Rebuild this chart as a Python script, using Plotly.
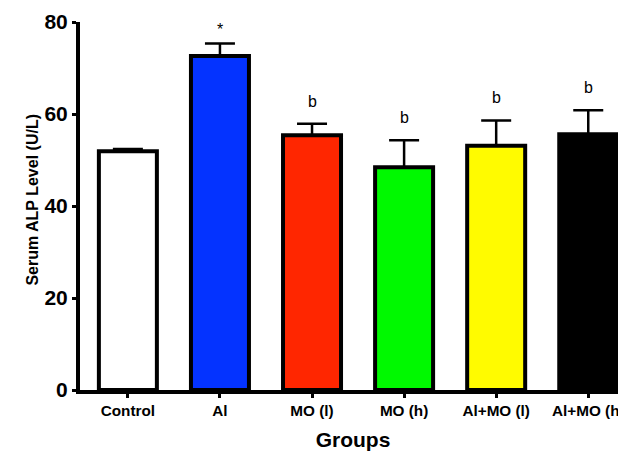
import plotly.graph_objects as go

groups = ["Control", "Al", "MO (l)", "MO (h)", "Al+MO (l)", "Al+MO (h)"]
means = [51.9, 72.6, 55.4, 48.4, 53.1, 55.6]
sem = [0.5, 2.7, 2.5, 5.9, 5.5, 5.2]
colors = ["#FFFFFF", "#0433FF", "#FF2600", "#00F900", "#FFFB00", "#000000"]
marks = ["", "*", "b", "b", "b", "b"]

FONT = "Arial, Liberation Sans, sans-serif"

# page body has an 8px default margin; figure is sized to fill the rest
W, H = 618, 445
L, T, B, R = 72, 14, 63, 0

fig = go.Figure()
fig.add_trace(go.Bar(
    x=list(range(len(groups))), y=means,
    marker=dict(color=colors, line=dict(color="black", width=4)),
    width=0.63,
    error_y=dict(type="data", array=sem, arrayminus=[0]*len(sem), symmetric=False,
                 color="black", thickness=2.5, width=15),
    showlegend=False,
))

for i, (m, s, t) in enumerate(zip(means, sem, marks)):
    if t:
        fig.add_annotation(x=i, y=m + s, text=t, showarrow=False, yanchor="bottom",
                           yshift=12 if t == "b" else 4,
                           font=dict(family=FONT, size=16, color="black"))

fig.add_annotation(xref="paper", yref="paper", x=(14 - L) / (W - L - R), y=0.516,
                   text="Serum ALP Level (U/L)", showarrow=False, textangle=-90,
                   font=dict(family=FONT, size=16, color="black", weight="bold"))

fig.update_layout(
    width=W, height=H,
    margin=dict(l=L, r=R, t=T, b=B),
    plot_bgcolor="white", paper_bgcolor="white",
    font=dict(family=FONT, color="black"),
)
fig.update_xaxes(
    tickmode="array", tickvals=list(range(len(groups))), ticktext=groups,
    range=[-0.52, 5.41], automargin=False,
    showline=True, linecolor="black", linewidth=4,
    ticks="outside", ticklen=4, tickwidth=3, tickcolor="black",
    tickfont=dict(family=FONT, size=15.3, color="black", weight="bold"),
    title=dict(text="Groups", font=dict(family=FONT, size=21, weight="bold")),
    showgrid=False, zeroline=False,
)
fig.update_yaxes(
    range=[0, 80], tickvals=[0, 20, 40, 60, 80], automargin=False,
    showline=True, linecolor="black", linewidth=4,
    ticks="outside", ticklen=4, tickwidth=3, tickcolor="black",
    tickfont=dict(family=FONT, size=21, color="black", weight="bold"),
    showgrid=False, zeroline=False,
)

fig.write_html("out.html")
